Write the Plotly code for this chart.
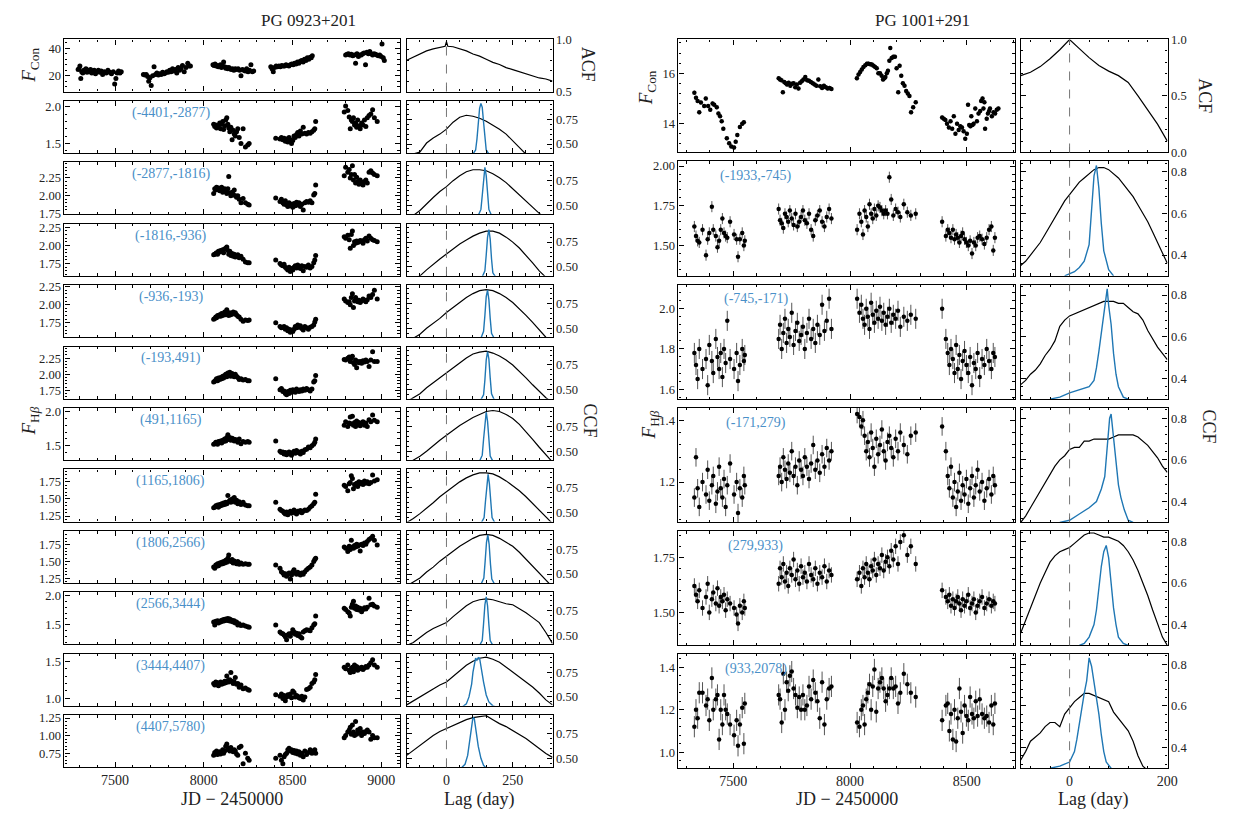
import plotly.graph_objects as go

# ===================== PG 0923+201 (left block) =====================
L_CON_JD = [7292, 7297, 7302, 7307, 7312, 7318, 7324, 7330, 7336, 7342, 7348, 7355, 7362, 7369, 7376, 7383, 7390,
            7398, 7406, 7414, 7422, 7430, 7440, 7450, 7460, 7470, 7480, 7490, 7498, 7505, 7512, 7520, 7528, 7535,
            7660, 7668, 7676, 7684, 7690, 7697, 7704, 7712, 7720, 7728, 7736, 7744, 7752, 7760, 7768, 7776, 7784,
            7792, 7800, 7808, 7816, 7824, 7832, 7840, 7848, 7856, 7864, 7872, 7880, 7890, 7900, 7910, 7918, 7925,
            8052, 8058, 8064, 8070, 8076, 8082, 8088, 8094, 8100, 8106, 8112, 8118, 8124, 8130, 8136, 8142, 8148,
            8155, 8162, 8170, 8178, 8186, 8194, 8202, 8210, 8218, 8226, 8234, 8242, 8250, 8258, 8266, 8274, 8282,
            8378, 8385, 8392, 8400, 8408, 8416, 8424, 8432, 8440, 8448, 8456, 8464, 8472, 8480, 8488, 8496, 8504,
            8512, 8520, 8528, 8536, 8544, 8552, 8560, 8568, 8576, 8584, 8592, 8600, 8606, 8612,
            8800, 8808, 8816, 8824, 8832, 8840, 8848, 8856, 8864, 8872, 8880, 8888, 8896, 8904, 8912, 8920, 8928,
            8936, 8944, 8952, 8960, 8968, 8976, 8984, 8992, 9000, 9005, 9012, 9018]
L_CON_F = [24.5, 25.0, 27.0, 18.0, 23.0, 22.0, 24.0, 23.5, 25.0, 22.5, 24.0, 23.0, 24.5, 22.0, 23.5, 24.0, 21.5,
           23.0, 24.0, 22.5, 23.5, 21.0, 23.0, 22.0, 24.0, 22.5, 21.5, 23.0, 14.0, 18.0, 22.0, 23.5, 22.0, 23.0,
           21.0, 20.5, 21.0, 19.5, 16.0, 18.5, 13.0, 20.0, 26.5, 21.0, 22.0, 20.5, 21.5, 21.0, 22.5, 21.5, 22.0,
           23.0, 22.5, 24.0, 23.0, 25.0, 23.5, 24.5, 22.0, 26.0, 24.0, 25.5, 27.5, 23.0, 26.0, 29.0, 27.0, 27.0,
           28.0, 27.5, 28.5, 27.0, 27.5, 26.5, 27.0, 28.0, 26.0, 27.0, 30.0, 26.5, 25.5, 26.0, 25.0, 26.0, 25.0,
           24.5, 25.0, 24.0, 25.0, 24.5, 25.0, 24.0, 20.0, 24.5, 24.0, 23.5, 25.0, 23.0, 24.0, 28.0, 23.0, 23.5,
           26.5, 25.0, 23.0, 26.0, 27.0, 26.5, 27.0, 26.5, 27.5, 27.0, 27.0, 28.0, 27.5, 27.0, 28.0, 28.5, 28.0,
           29.0, 28.5, 30.0, 29.0, 30.5, 31.0, 30.0, 32.0, 31.0, 33.0, 32.0, 33.5, 33.0, 34.5,
           35.0, 35.5, 36.0, 35.0, 35.5, 34.5, 35.0, 29.0, 36.0, 34.0, 35.0, 35.0, 36.0, 36.5, 28.0, 37.0, 36.0,
           37.5, 36.0, 35.0, 36.0, 35.5, 35.0, 34.5, 35.0, 34.0, 43.0, 33.0, 31.0]

L_HB_JD = [8056, 8062, 8068, 8072, 8078, 8083, 8090, 8095, 8101, 8107, 8112, 8118, 8124, 8130, 8136, 8141, 8147,
           8153, 8160, 8166, 8172, 8178, 8185, 8192, 8200, 8210, 8222, 8235, 8248, 8256,
           8406, 8430, 8438, 8446, 8453, 8460, 8467, 8474, 8481, 8488, 8495, 8502, 8509, 8516, 8523, 8530, 8537,
           8545, 8553, 8561, 8570, 8580, 8590, 8600, 8610, 8620, 8626, 8631,
           8792, 8800, 8812, 8820, 8826, 8832, 8838, 8844, 8850, 8856, 8862, 8868, 8875, 8882, 8890, 8898, 8906,
           8914, 8922, 8932, 8942, 8952, 8962, 8978]

L_HB_01 = [1.76, 1.73, 1.75, 1.71, 1.74, 1.72, 1.78, 1.70, 1.76, 1.80, 1.69, 1.74, 1.82, 1.85, 1.76, 1.71, 1.66, 1.72, 1.55, 1.68, 1.63, 1.60, 1.66, 1.70, 1.58, 1.50, 1.70, 1.45, 1.48, 1.50,
           1.57, 1.56, 1.58, 1.55, 1.57, 1.53, 1.56, 1.52, 1.58, 1.55, 1.50, 1.54, 1.60, 1.58, 1.62, 1.65, 1.60, 1.67, 1.63, 1.72, 1.64, 1.63, 1.65, 1.64, 1.66, 1.68, 1.70, 1.80,
           1.93, 2.01, 1.95, 1.86, 1.70, 1.82, 1.80, 1.85, 1.75, 1.78, 1.72, 1.82, 1.74, 1.70, 1.78, 1.75, 1.82, 1.73, 1.85, 1.88, 1.90, 1.96, 1.85, 1.80]
L_HB_02 = [2.03, 2.10, 2.08, 2.12, 2.09, 2.11, 2.07, 2.10, 2.12, 2.05, 2.08, 2.10, 2.06, 2.03, 2.10, 2.27, 2.04, 2.00, 2.05, 2.02, 2.08, 2.00, 1.98, 2.00, 1.95, 1.90, 1.96, 1.90, 1.88, 1.87,
           1.97, 1.92, 1.95, 1.90, 1.88, 1.93, 1.87, 1.85, 1.90, 1.86, 1.88, 1.84, 1.89, 1.86, 1.91, 1.87, 1.90, 1.85, 1.88, 1.80, 1.90, 1.92, 1.91, 1.93, 1.90, 2.01, 2.03, 2.15,
           2.28, 2.40, 2.33, 2.37, 2.25, 2.30, 2.42, 2.22, 2.30, 2.18, 2.26, 2.20, 2.16, 2.22, 2.19, 2.15, 2.20, 2.22, 2.18, 2.33, 2.35, 2.32, 2.30, 2.28]
L_HB_03 = [1.87, 1.88, 1.89, 1.90, 1.88, 1.92, 1.91, 1.93, 1.92, 1.94, 1.90, 1.95, 1.96, 1.98, 1.93, 1.88, 1.92, 1.86, 1.89, 1.85, 1.88, 1.84, 1.86, 1.87, 1.83, 1.85, 1.81, 1.77, 1.76, 1.76,
           1.80, 1.75, 1.73, 1.72, 1.74, 1.70, 1.68, 1.66, 1.70, 1.64, 1.68, 1.66, 1.70, 1.72, 1.69, 1.73, 1.70, 1.68, 1.72, 1.65, 1.71, 1.70, 1.73, 1.69, 1.71, 1.76, 1.80, 1.86,
           2.12, 2.10, 2.14, 2.08, 1.96, 2.15, 2.20, 2.00, 2.05, 2.03, 2.06, 2.04, 2.05, 2.07, 2.06, 2.03, 2.08, 2.10, 2.06, 2.13, 2.10, 2.08, 2.07, 2.05]
L_HB_04 = [1.80, 1.81, 1.83, 1.82, 1.85, 1.84, 1.86, 1.84, 1.88, 1.85, 1.87, 1.90, 1.86, 1.93, 1.88, 1.85, 1.89, 1.86, 1.88, 1.90, 1.87, 1.89, 1.86, 1.84, 1.83, 1.80, 1.77, 1.79, 1.78, 1.79,
           1.75, 1.70, 1.68, 1.69, 1.70, 1.66, 1.68, 1.64, 1.66, 1.62, 1.65, 1.63, 1.66, 1.70, 1.68, 1.72, 1.69, 1.71, 1.67, 1.65, 1.70, 1.68, 1.66, 1.69, 1.70, 1.72, 1.76, 1.80,
           2.08, 2.05, 2.03, 2.04, 2.00, 2.10, 2.15, 1.96, 2.05, 2.10, 2.07, 2.04, 2.06, 2.03, 2.05, 2.08, 2.06, 2.04, 2.07, 2.12, 2.10, 2.14, 2.20, 2.08]
L_HB_05 = [1.88, 1.89, 1.91, 1.93, 1.90, 1.94, 1.92, 1.95, 1.93, 1.97, 1.94, 1.98, 2.00, 1.96, 2.02, 1.99, 2.03, 1.97, 2.01, 1.98, 1.96, 2.00, 1.97, 1.95, 1.92, 1.93, 1.91, 1.92, 1.90, 1.90,
           1.93, 1.76, 1.78, 1.73, 1.74, 1.70, 1.68, 1.73, 1.70, 1.75, 1.72, 1.76, 1.74, 1.72, 1.77, 1.75, 1.73, 1.76, 1.74, 1.77, 1.75, 1.78, 1.76, 1.74, 1.77, 1.88, 1.90, 1.98,
           2.23, 2.22, 2.25, 2.27, 2.20, 2.25, 2.28, 2.18, 2.15, 2.22, 2.10, 2.20, 2.18, 2.20, 2.17, 2.21, 2.19, 2.22, 2.20, 2.12, 2.22, 2.35, 2.20, 2.20]
L_HB_06 = [1.52, 1.53, 1.55, 1.54, 1.52, 1.56, 1.55, 1.57, 1.54, 1.58, 1.56, 1.60, 1.57, 1.62, 1.66, 1.59, 1.62, 1.58, 1.61, 1.60, 1.57, 1.59, 1.58, 1.55, 1.60, 1.53, 1.56, 1.55, 1.56, 1.55,
           1.57, 1.42, 1.40, 1.41, 1.38, 1.40, 1.37, 1.39, 1.41, 1.38, 1.36, 1.40, 1.42, 1.39, 1.43, 1.40, 1.41, 1.38, 1.42, 1.40, 1.44, 1.45, 1.48, 1.47, 1.50, 1.52, 1.55, 1.60,
           1.80, 1.85, 1.78, 1.83, 1.92, 1.82, 1.93, 1.80, 1.84, 1.78, 1.86, 1.81, 1.84, 1.79, 1.82, 1.85, 1.80, 1.83, 1.78, 1.88, 1.85, 1.95, 1.87, 1.85]
L_HB_07 = [1.37, 1.38, 1.40, 1.39, 1.41, 1.38, 1.42, 1.40, 1.43, 1.41, 1.44, 1.42, 1.45, 1.43, 1.55, 1.46, 1.48, 1.45, 1.50, 1.47, 1.52, 1.45, 1.48, 1.43, 1.46, 1.42, 1.45, 1.41, 1.40, 1.40,
           1.45, 1.35, 1.33, 1.32, 1.30, 1.28, 1.31, 1.27, 1.30, 1.32, 1.29, 1.31, 1.34, 1.30, 1.28, 1.32, 1.31, 1.33, 1.30, 1.32, 1.34, 1.33, 1.35, 1.38, 1.40, 1.43, 1.45, 1.57,
           1.70, 1.68, 1.62, 1.72, 1.74, 1.84, 1.80, 1.65, 1.71, 1.70, 1.73, 1.68, 1.75, 1.72, 1.74, 1.71, 1.76, 1.73, 1.75, 1.72, 1.74, 1.85, 1.76, 1.78]
L_HB_08 = [1.42, 1.40, 1.45, 1.43, 1.47, 1.44, 1.48, 1.46, 1.49, 1.47, 1.50, 1.48, 1.52, 1.49, 1.55, 1.60, 1.52, 1.50, 1.53, 1.48, 1.51, 1.49, 1.47, 1.50, 1.46, 1.48, 1.46, 1.47, 1.46, 1.46,
           1.45, 1.40, 1.35, 1.33, 1.30, 1.32, 1.28, 1.31, 1.33, 1.24, 1.30, 1.35, 1.38, 1.33, 1.31, 1.34, 1.32, 1.30, 1.33, 1.31, 1.35, 1.38, 1.40, 1.42, 1.45, 1.50, 1.53, 1.55,
           1.72, 1.70, 1.65, 1.73, 1.68, 1.82, 1.72, 1.70, 1.74, 1.72, 1.76, 1.73, 1.75, 1.66, 1.76, 1.74, 1.78, 1.76, 1.80, 1.83, 1.85, 1.88, 1.82, 1.75]
L_HB_09 = [1.55, 1.50, 1.56, 1.54, 1.57, 1.53, 1.56, 1.55, 1.58, 1.56, 1.59, 1.57, 1.60, 1.58, 1.61, 1.57, 1.60, 1.56, 1.58, 1.55, 1.57, 1.53, 1.55, 1.50, 1.52, 1.49, 1.50, 1.48, 1.47, 1.46,
           1.50, 1.38, 1.36, 1.35, 1.33, 1.30, 1.25, 1.33, 1.35, 1.31, 1.36, 1.42, 1.38, 1.34, 1.36, 1.32, 1.35, 1.30, 1.28, 1.38, 1.40, 1.42, 1.41, 1.40, 1.45, 1.50, 1.52, 1.65,
           1.78, 1.76, 1.72, 1.70, 1.65, 1.80, 1.85, 1.90, 1.78, 1.82, 1.76, 1.80, 1.75, 1.78, 1.72, 1.76, 1.79, 1.77, 1.80, 1.95, 1.84, 1.85, 1.82, 1.80]
L_HB_10 = [1.20, 1.18, 1.22, 1.19, 1.21, 1.17, 1.20, 1.22, 1.19, 1.21, 1.20, 1.23, 1.21, 1.30, 1.24, 1.22, 1.25, 1.35, 1.23, 1.20, 1.22, 1.28, 1.19, 1.20, 1.15, 1.18, 1.13, 1.14, 1.12, 1.11,
           1.05, 1.03, 1.06, 1.00, 1.04, 0.97, 1.02, 1.05, 1.03, 1.06, 1.01, 1.10, 1.08, 1.02, 1.04, 1.03, 1.01, 1.00, 1.03, 0.98, 1.02, 1.12, 1.13, 1.15, 1.20, 1.22, 1.25, 1.32,
           1.42, 1.40, 1.45, 1.38, 1.35, 1.40, 1.42, 1.36, 1.45, 1.40, 1.43, 1.38, 1.41, 1.40, 1.42, 1.39, 1.41, 1.43, 1.42, 1.45, 1.48, 1.52, 1.45, 1.42]
L_HB_11 = [0.72, 0.76, 0.74, 0.78, 0.73, 0.75, 0.77, 0.74, 0.76, 0.80, 0.75, 0.78, 0.85, 0.88, 0.82, 0.80, 0.78, 0.83, 0.79, 0.77, 0.80, 0.78, 0.74, 0.72, 0.83, 0.85, 0.60, 0.75, 0.68, 0.65,
           0.68, 0.72, 0.65, 0.60, 0.70, 0.73, 0.75, 0.80, 0.82, 0.78, 0.80, 0.76, 0.79, 0.75, 0.78, 0.74, 0.77, 0.72, 0.75, 0.70, 0.78, 0.73, 0.76, 0.80, 0.75, 0.78, 0.80, 0.75,
           0.97, 1.00, 1.05, 1.08, 1.12, 1.02, 1.15, 1.05, 1.00, 1.20, 1.02, 1.08, 1.04, 1.10, 1.00, 1.05, 1.03, 1.06, 1.08, 1.05, 0.95, 1.00, 0.97, 0.97]

L_ERR = [1.0, 0.02, 0.02, 0.015, 0.015, 0.015, 0.015, 0.015, 0.015, 0.02, 0.02, 0.025]

L_ACF_LAG = [-150, -125, -100, -75, -50, -25, -5, 0, 5, 25, 50, 75, 100, 125, 150, 175, 200, 225, 250, 275, 300, 325, 350, 375, 400]
L_ACF = [0.80, 0.83, 0.86, 0.89, 0.91, 0.925, 0.935, 0.98, 0.935, 0.93, 0.91, 0.89, 0.86, 0.84, 0.81, 0.78, 0.76, 0.73, 0.71, 0.69, 0.67, 0.65, 0.63, 0.62, 0.60]

L_CCF_LAG = [-150, -125, -100, -75, -50, -25, 0, 25, 50, 75, 100, 125, 150, 175, 200, 225, 250, 275, 300, 325, 350, 375, 400]
L_CCF_01 = [0.38, 0.40, 0.42, 0.51, 0.56, 0.60, 0.65, 0.72, 0.77, 0.79, 0.78, 0.76, 0.73, 0.69, 0.65, 0.60, 0.53, 0.45, 0.38, 0.33, 0.30, 0.28, 0.25]
L_CCF_02 = [0.37, 0.40, 0.45, 0.52, 0.58, 0.64, 0.69, 0.75, 0.80, 0.84, 0.86, 0.86, 0.85, 0.82, 0.78, 0.73, 0.67, 0.61, 0.55, 0.48, 0.42, 0.37, 0.33]
L_CCF_03 = [0.33, 0.37, 0.41, 0.47, 0.53, 0.58, 0.63, 0.68, 0.73, 0.77, 0.81, 0.84, 0.86, 0.86, 0.84, 0.80, 0.75, 0.69, 0.62, 0.54, 0.46, 0.39, 0.33]
L_CCF_04 = [0.36, 0.40, 0.44, 0.50, 0.55, 0.60, 0.66, 0.71, 0.76, 0.81, 0.85, 0.88, 0.89, 0.88, 0.85, 0.81, 0.76, 0.70, 0.63, 0.56, 0.48, 0.41, 0.35]
L_CCF_05 = [0.38, 0.42, 0.46, 0.52, 0.57, 0.62, 0.67, 0.72, 0.77, 0.82, 0.86, 0.88, 0.89, 0.87, 0.84, 0.80, 0.75, 0.69, 0.62, 0.55, 0.48, 0.42, 0.37]
L_CCF_06 = [0.37, 0.41, 0.45, 0.50, 0.56, 0.61, 0.66, 0.71, 0.76, 0.80, 0.84, 0.87, 0.90, 0.91, 0.90, 0.87, 0.83, 0.77, 0.70, 0.62, 0.54, 0.46, 0.39]
L_CCF_07 = [0.40, 0.44, 0.49, 0.55, 0.60, 0.66, 0.71, 0.76, 0.81, 0.85, 0.88, 0.90, 0.90, 0.89, 0.86, 0.82, 0.77, 0.72, 0.66, 0.59, 0.52, 0.45, 0.39]
L_CCF_08 = [0.38, 0.42, 0.46, 0.52, 0.57, 0.63, 0.68, 0.73, 0.78, 0.82, 0.86, 0.89, 0.90, 0.89, 0.86, 0.82, 0.78, 0.72, 0.65, 0.58, 0.50, 0.43, 0.37]
L_CCF_09 = [0.40, 0.43, 0.48, 0.53, 0.57, 0.60, 0.63, 0.69, 0.75, 0.80, 0.84, 0.86, 0.87, 0.86, 0.84, 0.82, 0.81, 0.77, 0.73, 0.68, 0.63, 0.53, 0.42]
L_CCF_10 = [0.42, 0.46, 0.50, 0.54, 0.58, 0.62, 0.65, 0.71, 0.77, 0.82, 0.86, 0.89, 0.90, 0.88, 0.85, 0.80, 0.75, 0.70, 0.65, 0.60, 0.54, 0.47, 0.42]
L_CCF_11 = [0.53, 0.58, 0.63, 0.68, 0.73, 0.77, 0.80, 0.83, 0.86, 0.89, 0.91, 0.92, 0.93, 0.89, 0.85, 0.82, 0.78, 0.74, 0.70, 0.65, 0.60, 0.55, 0.51]

L_CCCD_LAG_01 = [100, 110, 115, 120, 125, 130, 135, 140, 145, 150, 160]
L_CCCD_01 = [0.40, 0.44, 0.55, 0.72, 0.86, 0.91, 0.87, 0.72, 0.55, 0.44, 0.40]
L_CCCD_LAG_02 = [120, 130, 135, 140, 145, 150, 155, 160, 170]
L_CCCD_02 = [0.40, 0.46, 0.60, 0.78, 0.885, 0.80, 0.62, 0.46, 0.40]
L_CCCD_LAG_03 = [135, 145, 150, 155, 160, 165, 170, 175, 185]
L_CCCD_03 = [0.40, 0.46, 0.62, 0.80, 0.876, 0.78, 0.58, 0.44, 0.40]
L_CCCD_LAG_04 = [130, 140, 145, 150, 155, 160, 165, 170, 180]
L_CCCD_04 = [0.40, 0.47, 0.63, 0.82, 0.885, 0.79, 0.60, 0.45, 0.40]
L_CCCD_LAG_05 = [130, 140, 145, 150, 155, 160, 165, 170, 180]
L_CCCD_05 = [0.40, 0.45, 0.60, 0.80, 0.885, 0.81, 0.62, 0.46, 0.40]
L_CCCD_LAG_06 = [125, 135, 140, 145, 150, 155, 160, 165, 175]
L_CCCD_06 = [0.40, 0.46, 0.62, 0.81, 0.895, 0.80, 0.61, 0.45, 0.40]
L_CCCD_LAG_07 = [132, 142, 147, 152, 157, 162, 167, 172, 182]
L_CCCD_07 = [0.40, 0.45, 0.61, 0.80, 0.885, 0.79, 0.60, 0.45, 0.40]
L_CCCD_LAG_08 = [131, 141, 146, 151, 156, 161, 166, 171, 181]
L_CCCD_08 = [0.40, 0.46, 0.63, 0.82, 0.895, 0.80, 0.60, 0.45, 0.40]
L_CCCD_LAG_09 = [125, 135, 140, 145, 150, 155, 160, 165, 175]
L_CCCD_09 = [0.40, 0.45, 0.62, 0.81, 0.89, 0.80, 0.61, 0.45, 0.40]
L_CCCD_LAG_10 = [60, 75, 85, 95, 100, 105, 110, 115, 120, 125, 130, 140, 150, 160, 175, 185]
L_CCCD_10 = [0.40, 0.43, 0.50, 0.63, 0.75, 0.84, 0.89, 0.87, 0.895, 0.89, 0.80, 0.65, 0.52, 0.45, 0.41, 0.40]
L_CCCD_LAG_11 = [55, 70, 80, 90, 95, 100, 105, 110, 120, 130, 140, 150]
L_CCCD_11 = [0.40, 0.44, 0.53, 0.72, 0.85, 0.915, 0.90, 0.80, 0.62, 0.50, 0.43, 0.40]

L_BIN_LABELS = ["(-4401,-2877)", "(-2877,-1816)", "(-1816,-936)", "(-936,-193)", "(-193,491)", "(491,1165)",
                "(1165,1806)", "(1806,2566)", "(2566,3444)", "(3444,4407)", "(4407,5780)"]

# ===================== PG 1001+291 (right block) =====================
R_CON_JD = [7333, 7340, 7347, 7354, 7361, 7375, 7382, 7392, 7401, 7411, 7418, 7429, 7436, 7443, 7450, 7457, 7472,
            7482, 7491, 7503, 7510, 7517, 7528, 7538, 7545,
            7694, 7700, 7706, 7712, 7718, 7724, 7730, 7737, 7744, 7751, 7758, 7765, 7772, 7779, 7786, 7793, 7800,
            7808, 7816, 7824, 7832, 7840, 7848, 7856, 7864, 7872, 7880, 7888, 7896, 7904, 7912, 7920,
            8029, 8036, 8043, 8050, 8057, 8065, 8072, 8079, 8086, 8093, 8100, 8107, 8114, 8121, 8128, 8135, 8141,
            8147, 8151, 8157, 8162, 8168, 8172, 8178, 8185, 8192, 8199, 8206, 8212, 8219, 8226, 8233, 8240, 8247,
            8254, 8261, 8270, 8281,
            8394, 8401, 8408, 8415, 8423, 8430, 8437, 8444, 8451, 8458, 8465, 8472, 8479, 8486, 8493, 8500, 8505,
            8510, 8515, 8519, 8524, 8529, 8536, 8543, 8550, 8557, 8561, 8567, 8571, 8575, 8578, 8585, 8590, 8595,
            8599, 8607, 8614, 8621, 8628, 8635]
R_CON_F = [15.23, 15.03, 14.90, 14.45, 14.84, 14.70, 15.00, 14.70, 14.55, 14.80, 14.75, 14.65, 14.40, 14.30, 14.10,
           13.80, 13.42, 13.23, 13.10, 13.06, 13.29, 13.55, 13.87, 14.00, 14.06,
           15.80, 15.75, 15.72, 15.25, 15.65, 15.60, 15.55, 15.62, 15.50, 15.58, 15.60, 15.45, 15.55, 15.40, 15.62,
           15.68, 15.75, 15.85, 15.72, 15.70, 15.65, 15.60, 15.55, 15.50, 15.75, 15.48, 15.42, 15.50, 15.45, 15.40,
           15.42, 15.38,
           15.80, 15.95, 16.05, 16.15, 16.25, 16.32, 16.38, 16.38, 16.36, 16.35, 16.30, 16.25, 16.20, 16.00, 16.00,
           15.90, 15.75, 15.80, 15.85, 16.00, 16.10, 16.50, 17.00, 16.60, 16.65, 16.65, 16.20, 15.25, 16.30, 15.90,
           15.60, 15.50, 15.30, 15.20, 15.10, 14.45, 14.65, 14.85,
           14.25, 14.20, 14.15, 14.00, 13.85, 14.10, 13.80, 14.30, 13.60, 14.00, 13.75, 13.90, 13.85, 13.70, 13.40,
           13.60, 14.75, 13.95, 13.90, 14.30, 13.95, 14.00, 14.60, 14.10, 14.40, 14.50, 14.90, 15.00, 14.60, 14.85,
           13.80, 14.20, 14.40, 14.50, 14.60, 14.30, 14.45, 14.40, 14.55, 14.60]

R_HB_JD = [7333, 7340, 7347, 7354, 7368, 7383, 7390, 7397, 7408, 7414, 7425, 7432, 7439, 7446, 7453, 7460, 7467,
           7474, 7486, 7503, 7514, 7520, 7528, 7538, 7545, 7549,
           7694, 7700, 7707, 7714, 7721, 7728, 7735, 7742, 7750, 7758, 7766, 7774, 7782, 7790, 7798, 7806, 7815,
           7824, 7833, 7842, 7851, 7860, 7870, 7880, 7890, 7900, 7910, 7920,
           8030, 8040, 8048, 8055, 8062, 8069, 8076, 8083, 8090, 8097, 8104, 8112, 8120, 8128, 8136, 8144, 8152,
           8160, 8168, 8176, 8185, 8195, 8205, 8215, 8230, 8245, 8260, 8281,
           8394, 8410, 8418, 8425, 8432, 8440, 8447, 8454, 8461, 8468, 8475, 8482, 8490, 8498, 8506, 8514, 8522,
           8530, 8538, 8546, 8555, 8565, 8575, 8585, 8595, 8605, 8613, 8620]

R_HB_1 = [1.62, 1.56, 1.53, 1.52, 1.60, 1.44, 1.54, 1.58, 1.745, 1.60, 1.56, 1.49, 1.53, 1.60, 1.67, 1.58, 1.56, 1.55, 1.65, 1.57, 1.54, 1.43, 1.54, 1.58, 1.50, 1.53,
          1.73, 1.66, 1.64, 1.61, 1.70, 1.68, 1.65, 1.72, 1.67, 1.63, 1.70, 1.62, 1.65, 1.68, 1.72, 1.66, 1.64, 1.70, 1.60, 1.56, 1.66, 1.69, 1.72, 1.65, 1.62, 1.68, 1.73, 1.67,
          1.60, 1.70, 1.65, 1.57, 1.72, 1.68, 1.62, 1.76, 1.70, 1.67, 1.73, 1.69, 1.75, 1.74, 1.72, 1.70, 1.72, 1.70, 1.93, 1.79, 1.69, 1.73, 1.71, 1.68, 1.76, 1.71, 1.69, 1.70,
          1.65, 1.56, 1.60, 1.58, 1.55, 1.60, 1.54, 1.57, 1.55, 1.52, 1.56, 1.58, 1.54, 1.52, 1.50, 1.53, 1.45, 1.52, 1.50, 1.55, 1.56, 1.54, 1.51, 1.55, 1.60, 1.62, 1.47, 1.55]
R_HB_2 = [1.78, 1.72, 1.65, 1.80, 1.70, 1.75, 1.62, 1.82, 1.74, 1.68, 1.85, 1.76, 1.70, 1.78, 1.66, 1.80, 1.73, 1.94, 1.75, 1.70, 1.78, 1.64, 1.72, 1.80, 1.74, 1.77,
          1.85, 1.92, 1.80, 1.88, 1.95, 1.83, 1.90, 1.86, 1.98, 1.82, 1.89, 1.93, 1.84, 1.87, 1.91, 1.80, 1.88, 1.95, 1.85, 1.90, 1.83, 1.92, 1.87, 2.02, 1.89, 1.94, 2.05, 1.90,
          2.05, 1.98, 2.02, 1.95, 1.92, 2.00, 1.96, 1.90, 2.03, 1.97, 1.93, 1.99, 1.95, 2.01, 1.94, 1.98, 1.92, 1.96, 2.00, 1.93, 1.97, 1.95, 1.99, 1.91, 1.96, 1.94, 1.97, 1.95,
          2.00, 1.85, 1.78, 1.72, 1.80, 1.75, 1.68, 1.82, 1.70, 1.77, 1.65, 1.74, 1.79, 1.72, 1.68, 1.76, 1.62, 1.73, 1.70, 1.78, 1.66, 1.75, 1.72, 1.80, 1.74, 1.70, 1.78, 1.76]
R_HB_3 = [1.15, 1.28, 1.18, 1.12, 1.20, 1.16, 1.24, 1.14, 1.19, 1.22, 1.13, 1.17, 1.25, 1.18, 1.15, 1.21, 1.12, 1.19, 1.26, 1.16, 1.20, 1.10, 1.18, 1.15, 1.22, 1.19,
          1.22, 1.25, 1.20, 1.28, 1.24, 1.21, 1.26, 1.23, 1.30, 1.22, 1.25, 1.19, 1.27, 1.24, 1.22, 1.28, 1.25, 1.21, 1.26, 1.32, 1.24, 1.27, 1.23, 1.29, 1.25, 1.31, 1.27, 1.30,
          1.42, 1.41, 1.38, 1.40, 1.35, 1.30, 1.33, 1.28, 1.36, 1.31, 1.25, 1.34, 1.29, 1.32, 1.37, 1.30, 1.27, 1.33, 1.35, 1.31, 1.28, 1.34, 1.30, 1.36, 1.32, 1.29, 1.35, 1.36,
          1.38, 1.30, 1.22, 1.18, 1.25, 1.15, 1.20, 1.12, 1.17, 1.23, 1.14, 1.19, 1.16, 1.21, 1.13, 1.18, 1.22, 1.15, 1.19, 1.24, 1.17, 1.20, 1.14, 1.18, 1.21, 1.16, 1.22, 1.19]
R_HB_4 = [1.62, 1.58, 1.55, 1.60, 1.52, 1.57, 1.63, 1.50, 1.56, 1.59, 1.54, 1.61, 1.53, 1.57, 1.55, 1.58, 1.51, 1.56, 1.54, 1.52, 1.49, 1.45, 1.53, 1.50, 1.55, 1.52,
          1.63, 1.70, 1.66, 1.72, 1.64, 1.68, 1.62, 1.70, 1.67, 1.74, 1.65, 1.69, 1.63, 1.71, 1.66, 1.68, 1.64, 1.72, 1.67, 1.65, 1.70, 1.63, 1.68, 1.66, 1.71, 1.64, 1.69, 1.67,
          1.65, 1.68, 1.62, 1.70, 1.66, 1.72, 1.68, 1.65, 1.71, 1.69, 1.74, 1.67, 1.72, 1.70, 1.76, 1.69, 1.73, 1.75, 1.71, 1.78, 1.74, 1.80, 1.72, 1.82, 1.85, 1.76, 1.80, 1.72,
          1.60, 1.57, 1.55, 1.58, 1.53, 1.56, 1.52, 1.55, 1.57, 1.54, 1.51, 1.56, 1.53, 1.55, 1.58, 1.52, 1.54, 1.56, 1.50, 1.53, 1.55, 1.57, 1.52, 1.54, 1.56, 1.53, 1.55, 1.54]
R_HB_5 = [1.12, 1.20, 1.16, 1.28, 1.28, 1.22, 1.25, 1.15, 1.35, 1.20, 1.25, 1.27, 1.06, 1.20, 1.13, 1.27, 1.20, 1.18, 1.13, 1.08, 1.15, 1.03, 1.13, 1.21, 1.04, 1.23,
          1.27, 1.25, 1.14, 1.37, 1.20, 1.33, 1.29, 1.36, 1.38, 1.30, 1.27, 1.21, 1.26, 1.20, 1.27, 1.20, 1.22, 1.31, 1.25, 1.34, 1.28, 1.24, 1.16, 1.33, 1.13, 1.25, 1.30, 1.31,
          1.14, 1.12, 1.20, 1.22, 1.13, 1.25, 1.28, 1.32, 1.20, 1.31, 1.39, 1.19, 1.30, 1.33, 1.35, 1.30, 1.24, 1.27, 1.30, 1.35, 1.30, 1.31, 1.23, 1.28, 1.37, 1.32, 1.28, 1.26,
          1.15, 1.22, 1.23, 1.10, 1.18, 1.06, 1.20, 1.05, 1.16, 1.30, 1.19, 1.09, 1.22, 1.17, 1.15, 1.26, 1.18, 1.16, 1.24, 1.17, 1.25, 1.18, 1.16, 1.17, 1.14, 1.22, 1.13, 1.23]

R_ERR = [0.08, 0.035, 0.05, 0.03, 0.035, 0.05]

R_ACF_LAG = [-100, -80, -60, -40, -20, 0, 20, 40, 60, 80, 100, 120, 140, 160, 180, 200]
R_ACF = [0.68, 0.71, 0.76, 0.83, 0.91, 1.0, 0.92, 0.84, 0.77, 0.72, 0.68, 0.62, 0.50, 0.38, 0.25, 0.10]

R_CCF_LAG = [-100, -90, -80, -70, -60, -50, -40, -30, -20, -10, 0, 10, 20, 30, 40, 50, 60, 70, 80, 90, 100,
             110, 120, 130, 140, 150, 160, 170, 180, 190, 200]
R_CCF_1 = [0.35, 0.37, 0.40, 0.43, 0.46, 0.50, 0.54, 0.58, 0.62, 0.66, 0.69, 0.72, 0.75, 0.77, 0.79, 0.81, 0.82, 0.82, 0.81, 0.79, 0.77, 0.74, 0.71, 0.68, 0.64, 0.60, 0.56, 0.51, 0.46, 0.41, 0.36]
R_CCF_2 = [0.37, 0.39, 0.42, 0.44, 0.47, 0.51, 0.54, 0.58, 0.65, 0.68, 0.70, 0.71, 0.72, 0.73, 0.74, 0.75, 0.76, 0.77, 0.77, 0.77, 0.76, 0.76, 0.74, 0.72, 0.71, 0.68, 0.63, 0.59, 0.55, 0.52, 0.49]
R_CCF_3 = [0.30, 0.33, 0.37, 0.41, 0.45, 0.49, 0.53, 0.57, 0.60, 0.62, 0.65, 0.66, 0.66, 0.69, 0.69, 0.70, 0.70, 0.70, 0.70, 0.71, 0.72, 0.72, 0.72, 0.72, 0.71, 0.69, 0.67, 0.64, 0.61, 0.57, 0.54]
R_CCF_4 = [0.36, 0.42, 0.48, 0.54, 0.60, 0.65, 0.70, 0.73, 0.75, 0.76, 0.77, 0.79, 0.81, 0.83, 0.84, 0.84, 0.83, 0.82, 0.82, 0.81, 0.80, 0.78, 0.75, 0.71, 0.66, 0.60, 0.54, 0.47, 0.40, 0.34, 0.30]
R_CCF_5 = [0.34, 0.38, 0.43, 0.45, 0.47, 0.50, 0.52, 0.52, 0.50, 0.56, 0.59, 0.62, 0.64, 0.66, 0.66, 0.65, 0.64, 0.63, 0.62, 0.57, 0.54, 0.51, 0.48, 0.43, 0.36, 0.31, 0.29, 0.28, 0.27, 0.26, 0.25]

R_CCCD_LAG_1 = [-10, 0, 10, 20, 30, 40, 45, 50, 55, 60, 65, 70, 80, 90]
R_CCCD_1 = [0.30, 0.31, 0.32, 0.34, 0.37, 0.45, 0.60, 0.78, 0.83, 0.72, 0.55, 0.42, 0.33, 0.30]
R_CCCD_LAG_2 = [-40, -20, 0, 20, 40, 50, 55, 60, 65, 70, 75, 77, 80, 85, 90, 95, 100, 110, 120]
R_CCCD_2 = [0.30, 0.31, 0.33, 0.345, 0.36, 0.39, 0.45, 0.53, 0.62, 0.72, 0.80, 0.83, 0.75, 0.66, 0.52, 0.42, 0.36, 0.31, 0.30]
R_CCCD_LAG_3 = [-20, 0, 20, 40, 55, 65, 72, 78, 82, 85, 90, 95, 100, 105, 112, 120, 130]
R_CCCD_3 = [0.30, 0.31, 0.34, 0.37, 0.40, 0.46, 0.52, 0.68, 0.80, 0.82, 0.70, 0.58, 0.48, 0.42, 0.36, 0.31, 0.30]
R_CCCD_LAG_4 = [20, 30, 40, 50, 55, 60, 65, 70, 75, 80, 85, 90, 95, 100, 110, 120]
R_CCCD_4 = [0.30, 0.31, 0.34, 0.40, 0.47, 0.58, 0.68, 0.75, 0.78, 0.72, 0.60, 0.48, 0.40, 0.34, 0.31, 0.30]
R_CCCD_LAG_5 = [-40, -20, 0, 10, 15, 20, 25, 30, 35, 40, 45, 50, 55, 60, 65, 70, 75, 85]
R_CCCD_5 = [0.30, 0.31, 0.33, 0.38, 0.44, 0.52, 0.60, 0.66, 0.72, 0.83, 0.79, 0.72, 0.65, 0.56, 0.46, 0.38, 0.33, 0.30]

R_BIN_LABELS = ["(-1933,-745)", "(-745,-171)", "(-171,279)", "(279,933)", "(933,2078)"]

# ===================== layout configuration =====================
W, H = 1239, 820
FONT = "Liberation Serif"
TXT = "#222222"
BLUE = "#1f77b4"
LBL_BLUE = "#4a90c8"

L_LC_X, L_CF_X = (65, 403), (410, 557)
R_LC_X, R_CF_X = (684, 1023), (1029, 1177)
L_ROW_TOPS = [33 + 62.5 * i for i in range(12)]
L_ROW_H = 53
R_ROW_TOPS = [33, 157, 282.5, 407.8, 533, 658]
R_ROW_H = [115, 116.5, 116.5, 116.5, 116.5, 116.5]

L_YR = [[8.6, 46.3], [1.37, 2.08], [1.738, 2.47], [1.58, 2.30], [1.55, 2.27], [1.62, 2.43], [1.29, 2.05],
        [1.17, 1.93], [1.18, 1.96], [1.17, 2.05], [0.90, 1.60], [0.55, 1.29]]
L_YDT = [20, 0.5, 0.25, 0.25, 0.25, 0.25, 0.5, 0.25, 0.25, 0.5, 0.5, 0.25]
R_YR = [[12.86, 17.34], [1.31, 2.03], [1.55, 2.12], [1.07, 1.44], [1.35, 1.87], [0.924, 1.464]]
R_YDT = [2, 0.25, 0.2, 0.2, 0.25, 0.2]


def tfmt(dt):
    if dt >= 1:
        return ".0f"
    if abs(dt * 10 - round(dt * 10)) < 1e-9:
        return ".1f"
    return ".2f"


def common(size):
    return dict(showline=True, linecolor="black", linewidth=1.2, mirror="allticks", ticks="inside",
                ticklen=5, tickwidth=1.1, tickcolor="black", showgrid=False, zeroline=False,
                tickfont=dict(family=FONT, size=size, color=TXT))


def minor(dt):
    return dict(ticks="inside", ticklen=2.5, tickwidth=0.9, tickcolor="black", showgrid=False, dtick=dt)


fig = go.Figure()
layout = {}
shapes = []
annots = []


def add_axes(k, xpx, top, hgt, xr, xdt, yr, ydt, yside, showx):
    s = "" if k == 1 else str(k)
    layout["xaxis" + s] = dict(domain=[xpx[0] / W, xpx[1] / W], range=xr, anchor="y" + s, tick0=0, dtick=xdt,
                               minor=minor(xdt / 5), showticklabels=showx, **common(14))
    layout["yaxis" + s] = dict(domain=[1 - (top + hgt) / H, 1 - top / H], range=yr, anchor="x" + s, tick0=0,
                               dtick=ydt, minor=minor(ydt / 5), tickformat=tfmt(ydt), side=yside, **common(12.5))
    return "x" + s, "y" + s


def lc_trace(xa, ya, x, y, err, ecol, msize):
    fig.add_trace(go.Scatter(x=x, y=y, mode="markers", xaxis=xa, yaxis=ya, hoverinfo="skip",
                             marker=dict(size=msize, color="black"),
                             error_y=dict(type="constant", value=err, thickness=1, width=0, color=ecol)))


def line_trace(xa, ya, x, y, color, width):
    fig.add_trace(go.Scatter(x=x, y=y, mode="lines", xaxis=xa, yaxis=ya, hoverinfo="skip",
                             line=dict(color=color, width=width)))


def zero_line(xa, ya):
    shapes.append(dict(type="line", xref=xa, yref=ya + " domain", x0=0, x1=0, y0=0, y1=1,
                       line=dict(color="#777777", width=1, dash="dash")))


def label(x, y, text, size, angle=0, color=TXT):
    annots.append(dict(x=x / W, y=1 - y / H, xref="paper", yref="paper", text=text, showarrow=False,
                       xanchor="center", yanchor="middle", textangle=angle,
                       font=dict(family=FONT, size=size, color=color)))


# ---------- left block ----------
L_HB = [L_HB_01, L_HB_02, L_HB_03, L_HB_04, L_HB_05, L_HB_06, L_HB_07, L_HB_08, L_HB_09, L_HB_10, L_HB_11]
L_CCF = [L_CCF_01, L_CCF_02, L_CCF_03, L_CCF_04, L_CCF_05, L_CCF_06, L_CCF_07, L_CCF_08, L_CCF_09, L_CCF_10, L_CCF_11]
L_CCCD_LAG = [L_CCCD_LAG_01, L_CCCD_LAG_02, L_CCCD_LAG_03, L_CCCD_LAG_04, L_CCCD_LAG_05, L_CCCD_LAG_06,
              L_CCCD_LAG_07, L_CCCD_LAG_08, L_CCCD_LAG_09, L_CCCD_LAG_10, L_CCCD_LAG_11]
L_CCCD = [L_CCCD_01, L_CCCD_02, L_CCCD_03, L_CCCD_04, L_CCCD_05, L_CCCD_06, L_CCCD_07, L_CCCD_08, L_CCCD_09,
          L_CCCD_10, L_CCCD_11]

k = 1
for i in range(12):
    top = L_ROW_TOPS[i]
    last = i == 11
    xa, ya = add_axes(k, L_LC_X, top, L_ROW_H, [7215, 9105], 500, L_YR[i], L_YDT[i], "left", last)
    if i == 0:
        lc_trace(xa, ya, L_CON_JD, L_CON_F, L_ERR[0], "black", 5)
    else:
        lc_trace(xa, ya, L_HB_JD, L_HB[i - 1], L_ERR[i], "black", 5)
        label(172, top + 12, L_BIN_LABELS[i - 1], 14, 0, LBL_BLUE)
    k += 1
    if i == 0:
        xa, ya = add_axes(k, L_CF_X, top, L_ROW_H, [-150, 400], 250, [0.4995, 1.0005], 0.5, "right", last)
        line_trace(xa, ya, L_ACF_LAG, L_ACF, "black", 1.2)
    else:
        xa, ya = add_axes(k, L_CF_X, top, L_ROW_H, [-150, 400], 250, [0.41, 0.935], 0.25, "right", last)
        line_trace(xa, ya, L_CCF_LAG, L_CCF[i - 1], "black", 1.2)
        line_trace(xa, ya, L_CCCD_LAG[i - 1], L_CCCD[i - 1], BLUE, 1.4)
    zero_line(xa, ya)
    k += 1

# ---------- right block ----------
R_HB = [R_HB_1, R_HB_2, R_HB_3, R_HB_4, R_HB_5]
R_CCF = [R_CCF_1, R_CCF_2, R_CCF_3, R_CCF_4, R_CCF_5]
R_CCCD_LAG = [R_CCCD_LAG_1, R_CCCD_LAG_2, R_CCCD_LAG_3, R_CCCD_LAG_4, R_CCCD_LAG_5]
R_CCCD = [R_CCCD_1, R_CCCD_2, R_CCCD_3, R_CCCD_4, R_CCCD_5]

for j in range(6):
    top = R_ROW_TOPS[j]
    hgt = R_ROW_H[j]
    last = j == 5
    xa, ya = add_axes(k, R_LC_X, top, hgt, [7265, 8705], 500, R_YR[j], R_YDT[j], "left", last)
    if j == 0:
        lc_trace(xa, ya, R_CON_JD, R_CON_F, R_ERR[0], "#444444", 4.5)
    else:
        lc_trace(xa, ya, R_HB_JD, R_HB[j - 1], R_ERR[j], "#555555", 4.5)
        label(762, top + 15, R_BIN_LABELS[j - 1], 14, 0, LBL_BLUE)
    k += 1
    if j == 0:
        xa, ya = add_axes(k, R_CF_X, top, hgt, [-100, 200.4], 200, [-0.001, 1.001], 0.5, "right", last)
        line_trace(xa, ya, R_ACF_LAG, R_ACF, "black", 1.2)
    else:
        xa, ya = add_axes(k, R_CF_X, top, hgt, [-100, 200.4], 200, [0.3, 0.85], 0.2, "right", last)
        line_trace(xa, ya, R_CCF_LAG, R_CCF[j - 1], "black", 1.2)
        line_trace(xa, ya, R_CCCD_LAG[j - 1], R_CCCD[j - 1], BLUE, 1.4)
    zero_line(xa, ya)
    k += 1

label(311, 14, "PG 0923+201", 17)
label(930, 14, "PG 1001+291", 17)
label(234, 806, "JD − 2450000", 18)
label(483, 806, "Lag (day)", 18)
label(854, 806, "JD − 2450000", 18)
label(1102, 806, "Lag (day)", 18)
label(30, 59, "<i>F</i><sub>Con</sub>", 19, -90)
label(30, 421, "<i>F</i><sub>H<i>β</i></sub>", 19, -90)
label(652, 82, "<i>F</i><sub>Con</sub>", 19, -90)
label(655, 425, "<i>F</i><sub>H<i>β</i></sub>", 19, -90)
label(593, 58, "ACF", 18, 90)
label(595, 421, "CCF", 18, 90)
label(1214, 90, "ACF", 18, 90)
label(1219, 427, "CCF", 18, 90)

fig.update_layout(width=W, height=H, margin=dict(l=0, r=0, t=0, b=0), paper_bgcolor="white",
                  plot_bgcolor="white", showlegend=False, font=dict(family=FONT, size=14, color=TXT),
                  shapes=shapes, annotations=annots, **layout)
fig.write_html("out.html")
